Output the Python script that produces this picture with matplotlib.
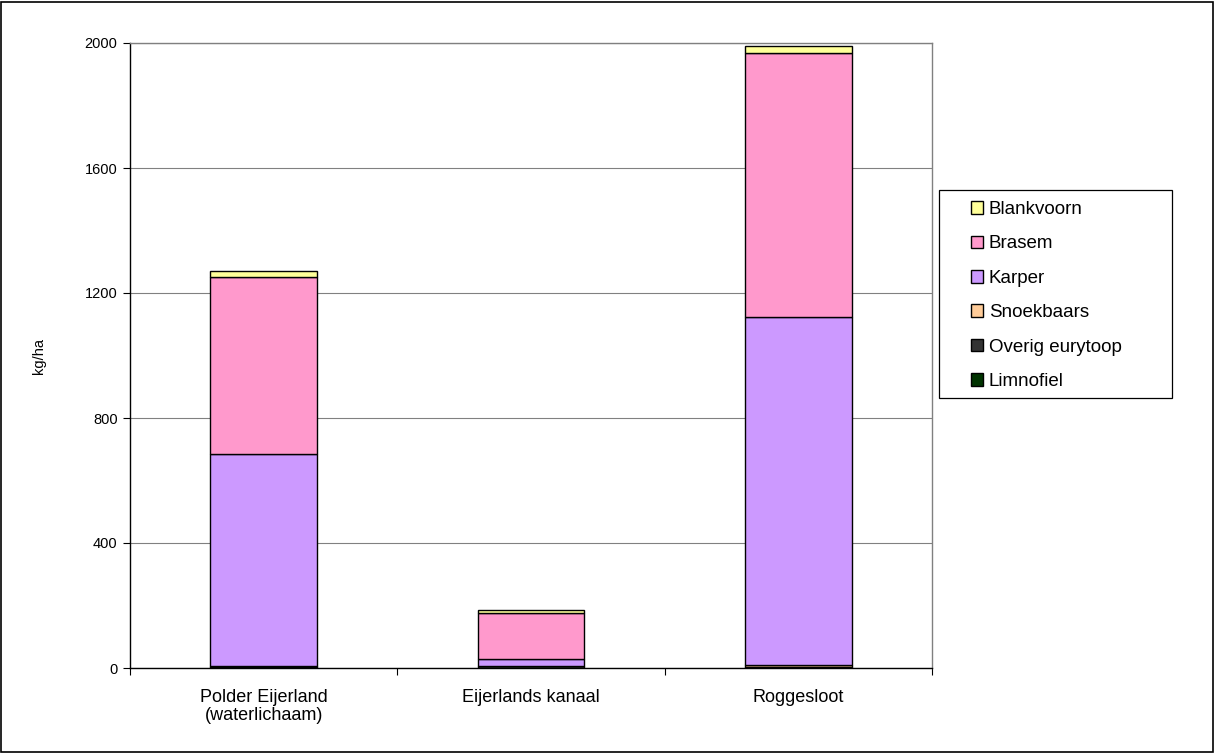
import matplotlib
matplotlib.use("Agg")
import matplotlib.pyplot as plt
from matplotlib.patches import Rectangle
import numpy as np

plt.rcParams['font.family'] = ['Liberation Sans', 'DejaVu Sans']

categories = ["Polder Eijerland\n(waterlichaam)", "Eijerlands kanaal", "Roggesloot"]
series = ["Limnofiel", "Overig eurytoop", "Snoekbaars", "Karper", "Brasem", "Blankvoorn"]
limnofiel = [0, 0, 0]
overig_eurytoop = [4, 8, 2]
snoekbaars = [4, 0, 8]
karper = [677, 20, 1113]
brasem = [565, 149, 845]
blankvoorn = [20, 9, 22]
colors = ["#003300", "#333333", "#FFCC99", "#CC99FF", "#FF99CC", "#FFFF99"]
yticks = [0, 400, 800, 1200, 1600, 2000]

values = [limnofiel, overig_eurytoop, snoekbaars, karper, brasem, blankvoorn]

W, H = 1214, 753
fig = plt.figure(figsize=(W / 100, H / 100), dpi=100)
fig.patches.append(Rectangle((1.5 / W, 1.5 / H), (W - 3) / W, (H - 3) / H, transform=fig.transFigure,
                             fill=False, edgecolor="black", linewidth=1.2))

ax = fig.add_axes([130 / W, 1 - 668 / H, (932 - 130) / W, (668 - 43) / H])
x = np.arange(len(categories))
bottom = np.zeros(len(categories))
handles = []
for name, vals, col in zip(series, values, colors):
    b = ax.bar(x, vals, width=0.4, bottom=bottom, color=col, edgecolor="black",
               linewidth=1.0, label=name, zorder=3)
    handles.append(b)
    bottom += np.array(vals)

ax.set_xlim(-0.5, 2.5)
ax.set_ylim(0, 2000)
ax.set_yticks(yticks)
ax.set_yticklabels([str(v) for v in yticks], fontsize=10.5)
ax.yaxis.grid(True, color="#808080", linewidth=0.8, zorder=0)
ax.set_axisbelow(True)

ax.set_xticks([-0.5, 0.5, 1.5, 2.5], minor=False)
ax.set_xticklabels([])
ax.set_xticks(x, minor=True)
ax.set_xticklabels(categories, minor=True, fontsize=13, linespacing=1.1)
ax.tick_params(axis="x", which="minor", length=0, pad=15)
ax.tick_params(axis="x", which="major", length=5, color="black")
ax.tick_params(axis="y", length=5, color="black", pad=4)

ax.spines["left"].set_color("black")
ax.spines["bottom"].set_color("black")
ax.spines["top"].set_color("#808080")
ax.spines["right"].set_color("#808080")
for s in ax.spines.values():
    s.set_linewidth(1.0)

ax.set_ylabel("kg/ha", fontsize=10.5)
ax.yaxis.set_label_coords(-0.105, 0.5)

# legend box
fig.patches.append(Rectangle((939 / W, 1 - 398 / H), (1172 - 939) / W, (398 - 190) / H,
                             transform=fig.transFigure, fill=True, facecolor="white",
                             edgecolor="black", linewidth=0.9, zorder=1))
leg = fig.legend(handles[::-1], series[::-1], loc="upper left",
                 bbox_to_anchor=(971 / W, 1 - 201 / H),
                 frameon=False, fontsize=13.5,
                 handlelength=0.65, handleheight=0.65, handletextpad=0.3,
                 labelspacing=0.93, borderpad=0, borderaxespad=0)
leg.set_zorder(2)

fig.savefig("out.png", dpi=100)
